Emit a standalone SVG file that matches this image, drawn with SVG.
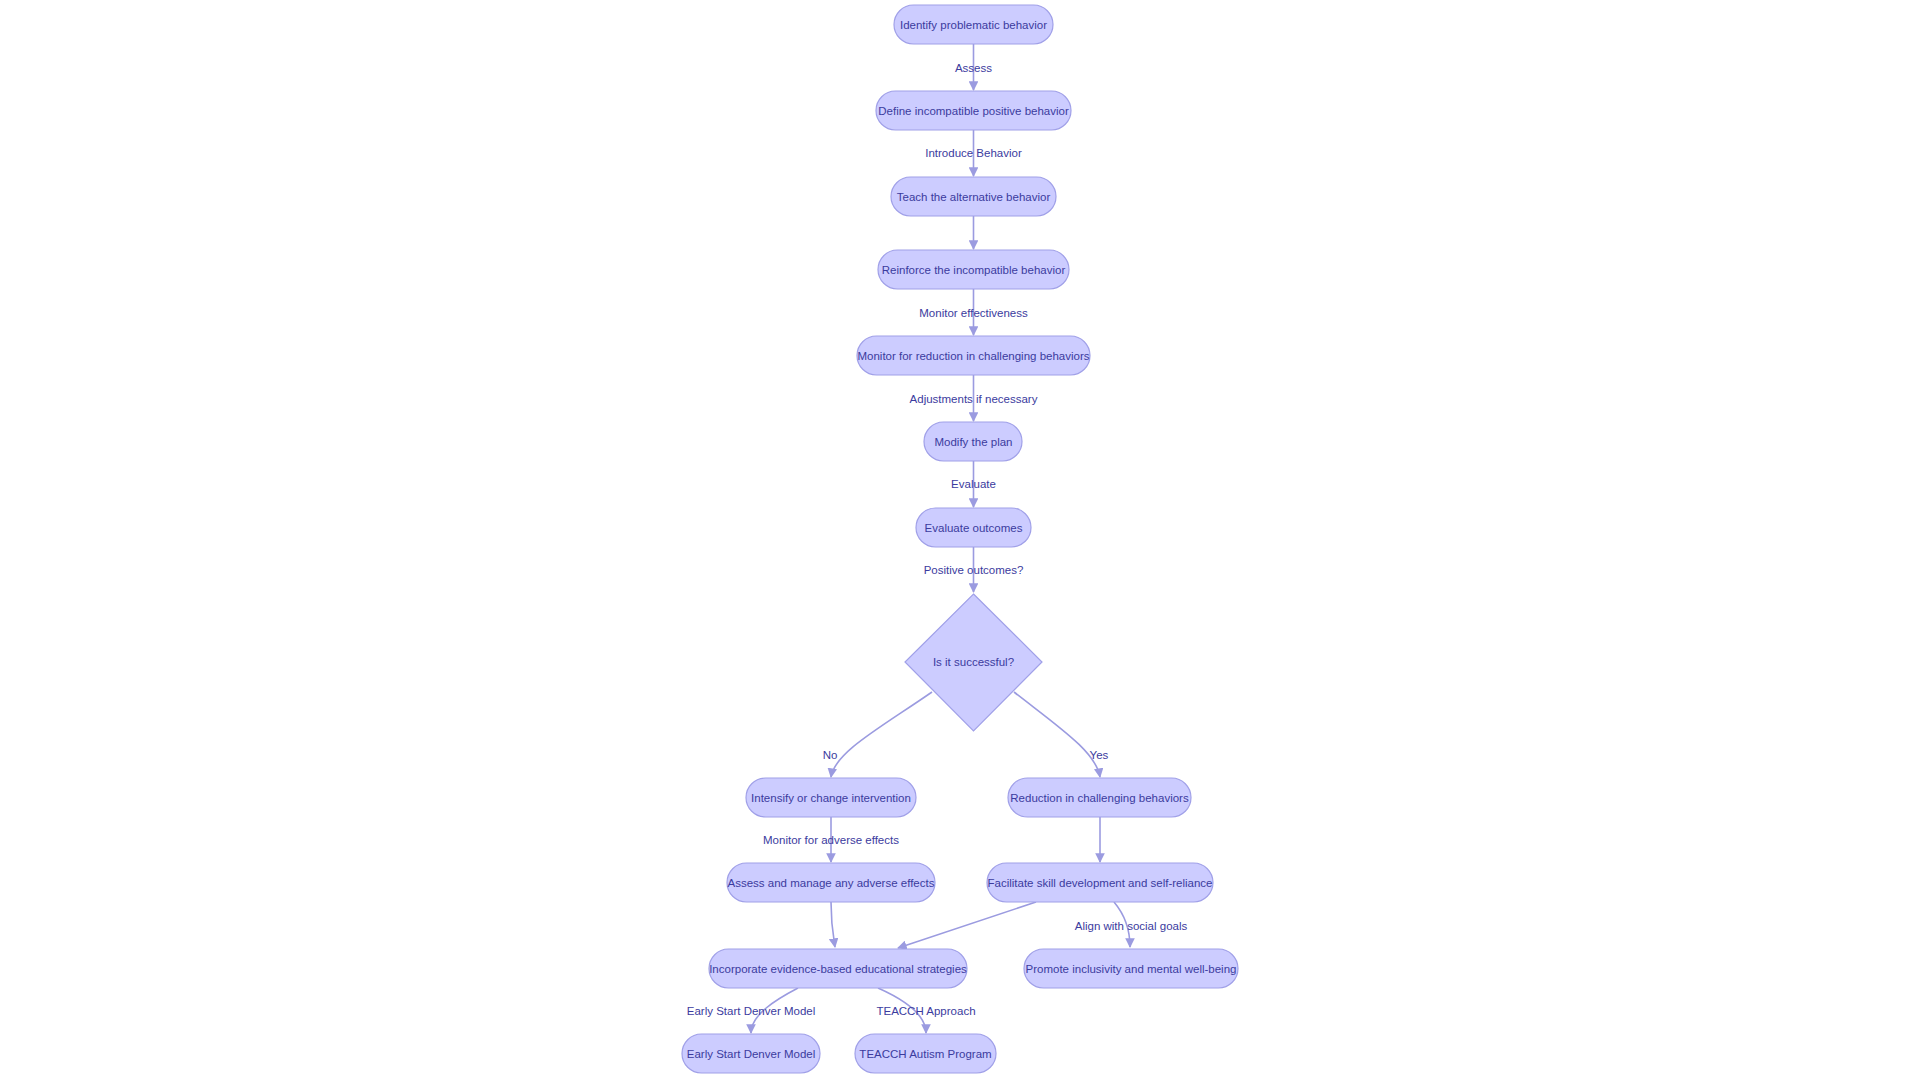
<svg xmlns="http://www.w3.org/2000/svg" width="1920" height="1080" viewBox="0 0 1920 1080">
<style>
.n rect,.n polygon{fill:#ccccff;stroke:#a0a0e8;stroke-width:1.2}
text{font-family:"Liberation Sans",Arial,sans-serif;font-size:11.5px;fill:#3b3b9e;text-anchor:middle;dominant-baseline:central}
.c path{fill:none;stroke:#9b9be0;stroke-width:1.6;marker-end:url(#a)}
.l rect{fill:#fff}
</style>
<defs><marker id="a" viewBox="0 0 10 10" refX="9" refY="5" markerWidth="6" markerHeight="6" orient="auto"><path d="M0,0L10,5L0,10z" fill="#9b9be0"/></marker></defs>
<rect width="1920" height="1080" fill="#fff"/>
<g class="c">
<path d="M973.5,44V90"/>
<path d="M973.5,130V176"/>
<path d="M973.5,216V249"/>
<path d="M973.5,289V335"/>
<path d="M973.5,375V421"/>
<path d="M973.5,461V507"/>
<path d="M973.5,547V592"/>
<path d="M932,692C880,728 835,752 831,777"/>
<path d="M1014,692C1060,728 1096,752 1100,777"/>
<path d="M831,817V862"/>
<path d="M1100,817V862"/>
<path d="M831,902C831,925 833,935 835,947"/>
<path d="M1036,902L898,948"/>
<path d="M1114,902C1125,915 1130,930 1130,947"/>
<path d="M798,988C775,1000 751,1015 751,1033"/>
<path d="M878,988C905,1000 926,1015 926,1033"/>
</g>
<g class="l">
<text x="973.5" y="68">Assess</text>
<text x="973.5" y="153">Introduce Behavior</text>
<text x="973.5" y="313">Monitor effectiveness</text>
<text x="973.5" y="399">Adjustments if necessary</text>
<text x="973.5" y="484">Evaluate</text>
<text x="973.5" y="570">Positive outcomes?</text>
<text x="830" y="755">No</text>
<text x="1099" y="755">Yes</text>
<text x="831" y="840">Monitor for adverse effects</text>
<text x="1131" y="926">Align with social goals</text>
<text x="751" y="1011">Early Start Denver Model</text>
<text x="926" y="1011">TEACCH Approach</text>
</g>
<g id="n1" class="n"><rect x="894" y="5" width="159" height="39" rx="19.5"/><text x="973.5" y="25">Identify problematic behavior</text></g>
<g id="n2" class="n"><rect x="876" y="91" width="195" height="39" rx="19.5"/><text x="973.5" y="111">Define incompatible positive behavior</text></g>
<g id="n3" class="n"><rect x="891" y="177" width="165" height="39" rx="19.5"/><text x="973.5" y="197">Teach the alternative behavior</text></g>
<g id="n4" class="n"><rect x="878" y="250" width="191" height="39" rx="19.5"/><text x="973.5" y="270">Reinforce the incompatible behavior</text></g>
<g id="n5" class="n"><rect x="857" y="336" width="233" height="39" rx="19.5"/><text x="973.5" y="356">Monitor for reduction in challenging behaviors</text></g>
<g id="n6" class="n"><rect x="924" y="422" width="98" height="39" rx="19.5"/><text x="973.5" y="442">Modify the plan</text></g>
<g id="n7" class="n"><rect x="916" y="508" width="115" height="39" rx="19.5"/><text x="973.5" y="528">Evaluate outcomes</text></g>
<g id="n8" class="n"><polygon points="973.5,594 1042,662 973.5,731 905,662"/><text x="973.5" y="662">Is it successful?</text></g>
<g id="n9" class="n"><rect x="746" y="778" width="170" height="39" rx="19.5"/><text x="831" y="798">Intensify or change intervention</text></g>
<g id="n10" class="n"><rect x="1008" y="778" width="183" height="39" rx="19.5"/><text x="1099.5" y="798">Reduction in challenging behaviors</text></g>
<g id="n11" class="n"><rect x="727" y="863" width="208" height="39" rx="19.5"/><text x="831" y="883">Assess and manage any adverse effects</text></g>
<g id="n12" class="n"><rect x="987" y="863" width="226" height="39" rx="19.5"/><text x="1100" y="883">Facilitate skill development and self-reliance</text></g>
<g id="n13" class="n"><rect x="709" y="949" width="258" height="39" rx="19.5"/><text x="838" y="969">Incorporate evidence-based educational strategies</text></g>
<g id="n14" class="n"><rect x="1024" y="949" width="214" height="39" rx="19.5"/><text x="1131" y="969">Promote inclusivity and mental well-being</text></g>
<g id="n15" class="n"><rect x="682" y="1034" width="138" height="39" rx="19.5"/><text x="751" y="1054">Early Start Denver Model</text></g>
<g id="n16" class="n"><rect x="855" y="1034" width="141" height="39" rx="19.5"/><text x="925.5" y="1054">TEACCH Autism Program</text></g>
</svg>
